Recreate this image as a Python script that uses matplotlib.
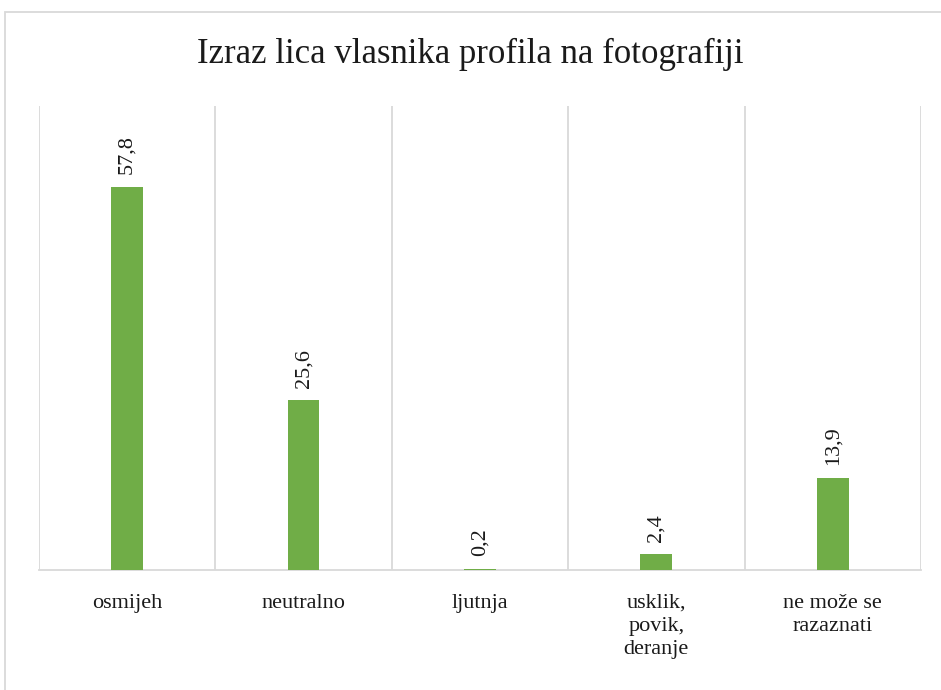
import matplotlib.pyplot as plt
from matplotlib.patches import Rectangle

categories = ["osmijeh", "neutralno", "ljutnja", "usklik,\npovik,\nderanje", "ne može se\nrazaznati"]
values = [57.8, 25.6, 0.2, 2.4, 13.9]
value_labels = ["57,8", "25,6", "0,2", "2,4", "13,9"]

plt.rcParams['font.family'] = ['Liberation Serif', 'DejaVu Serif']

fig = plt.figure(figsize=(9.41, 6.90), dpi=100)
ax = fig.add_axes([0.0414, 0.1739, 0.9373, 0.6725])

x = list(range(len(categories)))
ax.bar(x, values, width=0.18, color="#70AD47", zorder=3)

for xi, v, lab in zip(x, values, value_labels):
    ax.annotate(lab, (xi, v), xytext=(0, 9), textcoords="offset points",
                rotation=90, ha="center", va="bottom", fontsize=16, color="#1a1a1a")

ax.set_xlim(-0.5, len(categories) - 0.5)
ax.set_ylim(0, 70)
ax.set_yticks([])
ax.set_xticks(x)
ax.set_xticklabels(categories, fontsize=16, color="#1a1a1a", linespacing=1.3)
ax.tick_params(axis="x", length=0, pad=17)
ax.set_xticks([i - 0.5 for i in range(len(categories) + 1)], minor=True)
ax.tick_params(axis="x", which="minor", length=0)
ax.grid(axis="x", which="minor", color="#d9d9d9", linewidth=1.3)
for s in ["top", "right", "left"]:
    ax.spines[s].set_visible(False)
ax.spines["bottom"].set_color("#d9d9d9")
ax.spines["bottom"].set_linewidth(1.3)

fig.text(0.5, 0.921, "Izraz lica vlasnika profila na fotografiji", ha="center", va="center",
         fontsize=25, color="#1a1a1a")

fig.patches.append(Rectangle((0.0053, -0.02), 1.1, 1.0026, transform=fig.transFigure,
                             fill=False, edgecolor="#d9d9d9", linewidth=1.3))

fig.savefig("out.png", dpi=100)
